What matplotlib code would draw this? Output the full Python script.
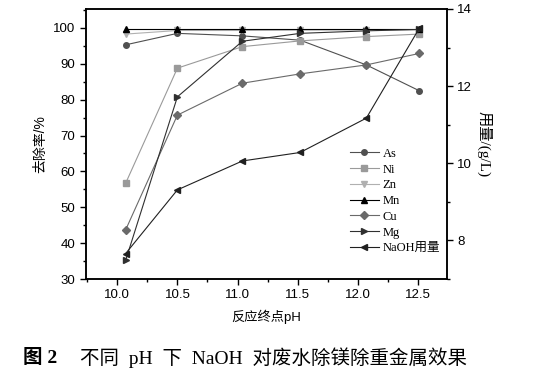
import matplotlib.pyplot as plt
from matplotlib.ticker import MultipleLocator

plt.rcParams['font.family'] = ['Liberation Sans', 'Noto Sans CJK SC']

# data
ph = [10.07, 10.5, 11.04, 11.52, 12.07, 12.51]
as_rate = [95.3, 98.5, 97.8, 96.6, 89.7, 82.5]
ni_rate = [56.7, 88.8, 94.8, 96.4, 97.6, 98.3]
zn_rate = [98.3, 99.3, 99.3, 99.4, 99.5, 99.5]
mn_rate = [99.7, 99.7, 99.7, 99.7, 99.7, 99.7]
cu_rate = [43.7, 75.7, 84.6, 87.2, 89.7, 92.9]
mg_rate = [35.2, 80.8, 96.3, 98.5, 99.2, 99.6]
naoh_dose = [7.66, 9.31, 10.06, 10.28, 11.17, 13.5]

fig = plt.figure(figsize=(5.58, 3.74), dpi=100)
ax = fig.add_axes([0.154, 0.254, 0.647, 0.722])
ax2 = ax.twinx()

lw = 0.8
h1, = ax.plot(ph, as_rate, '-o', color='#505050', lw=lw, ms=4, label='As')
h2, = ax.plot(ph, ni_rate, '-s', color='#9a9a9a', lw=lw, ms=4, label='Ni')
h3, = ax.plot(ph, zn_rate, '-v', color='#b0b0b0', lw=lw, ms=5, label='Zn')
h4, = ax.plot(ph, mn_rate, '-^', color='#000000', lw=lw, ms=5, label='Mn')
h5, = ax.plot(ph, cu_rate, '-D', color='#6a6a6a', lw=lw, ms=4, label='Cu')
h6, = ax.plot(ph, mg_rate, '->', color='#303030', lw=lw, ms=5, label='Mg')
h7, = ax2.plot(ph, naoh_dose, '-<', color='#202020', lw=lw, ms=5, label='NaOH用量')

ax.set_xlim(9.74, 12.74)
ax.set_ylim(30, 105.3)
ax2.set_ylim(7, 14)

ax.xaxis.set_major_locator(MultipleLocator(0.5))
ax.xaxis.set_minor_locator(MultipleLocator(0.25))
ax.yaxis.set_major_locator(MultipleLocator(10))
ax.yaxis.set_minor_locator(MultipleLocator(5))
ax2.yaxis.set_major_locator(MultipleLocator(2))
ax2.yaxis.set_minor_locator(MultipleLocator(1))
ax.xaxis.set_major_formatter(plt.FormatStrFormatter('%.1f'))

for a in (ax, ax2):
    a.tick_params(which='major', direction='out', length=4, width=1, labelsize=9.5)
    a.tick_params(which='minor', direction='out', length=2.5, width=1)
    for s in a.spines.values():
        s.set_linewidth(1.1)

ax.set_xlabel('反应终点pH', fontsize=9.5, labelpad=6)
ax.set_ylabel('去除率/%', fontsize=10, labelpad=4)
ax2.set_ylabel('用量/(g/L)', fontsize=11, rotation=270, labelpad=14,
               family=['Liberation Serif', 'Noto Sans CJK SC'])

leg = ax.legend(handles=[h1, h2, h3, h4, h5, h6, h7], loc='lower right',
                bbox_to_anchor=(1.012, 0.05), frameon=False,
                handlelength=2.3, labelspacing=0.3, handletextpad=0.3,
                prop={'family': ['Liberation Serif', 'Noto Sans CJK SC'], 'size': 9})

fig.text(0.041, 0.043, '图 2', fontsize=14, fontweight='bold', va='center',
         family=['Liberation Serif', 'Noto Sans CJK SC'])
fig.text(0.143, 0.043, '不同  pH  下  NaOH  对废水除镁除重金属效果', fontsize=14,
         va='center', family=['Liberation Serif', 'Noto Sans CJK SC'])

fig.savefig('out.png', dpi=100)
